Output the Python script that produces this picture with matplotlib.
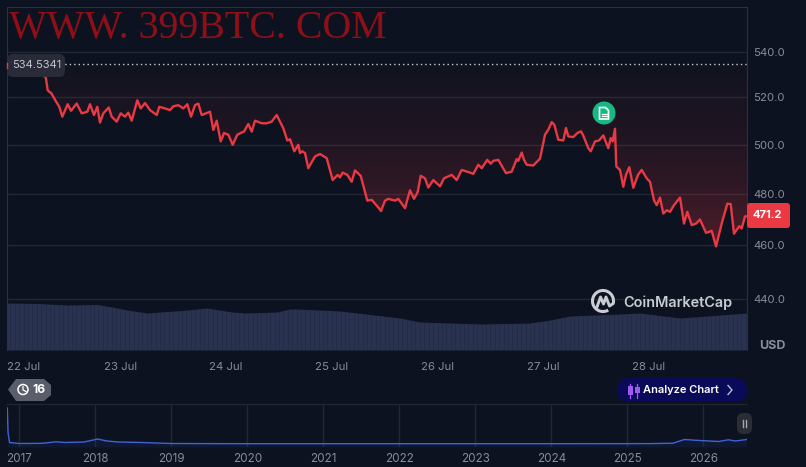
import numpy as np
import matplotlib
matplotlib.use("Agg")
import matplotlib.pyplot as plt
from matplotlib.patches import FancyBboxPatch, Circle, Arc, Polygon, Rectangle
from matplotlib.ticker import FixedLocator, NullLocator, FixedFormatter
from matplotlib.transforms import ScaledTranslation
from matplotlib.colors import LinearSegmentedColormap

plt.rcParams['font.family'] = ['Inter', 'DejaVu Sans']

# Sampling slots: one slot is about 13.6 minutes, slot 0 is the left edge of the chart
slots = [0, 38.7, 40.7, 44.7, 48, 52.3, 55.3, 60.7, 64, 69.7, 74.7, 80.3, 83, 87, 90.3, 93, 96.3, 101.7, 104.7, 109.7,
         113.7, 118, 121.3, 124.7, 130.3, 133.7, 138, 143, 149.7, 152.3, 158, 163, 166.3, 171.3, 176.3, 180.3, 184,
         188, 191.3, 194.7, 203, 206.3, 209.7, 213.7, 217, 221.3, 225.7, 230.3, 234.7, 237, 241.3, 244.7, 248, 254.7,
         259.7, 264.7, 269.7, 276.3, 280.3, 283, 287.3, 291.3, 293, 295.3, 298, 301.3, 308, 313, 319.7, 325.7, 330.7,
         333, 335.7, 340.3, 344.7, 348, 353.7, 360.3, 364.7, 371.3, 374, 378, 381.3, 388, 391.3, 398, 403, 407, 410.7,
         413.7, 418, 421.3, 426.3, 433, 437, 444.7, 449.7, 454.7, 463, 466.3, 471.3, 474.7, 480.3, 483.7, 486.3, 491.3,
         499, 504.7, 509.7, 511.3, 514.7, 517, 519.7, 526.3, 533, 538, 541.3, 544.7, 547.3, 551.3, 556.3, 559, 561.3,
         566.3, 570.3, 574, 576.3, 581.3, 583.7, 588, 592, 596.3, 601.3, 603.7, 605.7, 608, 609.3, 613, 616.3, 619,
         622.3, 626.3, 631, 634.7, 639.7, 643, 647, 649.7, 653, 656.3, 659.7, 663, 667, 673, 677, 680.3, 684.7, 689,
         693, 699, 704.7, 709, 714.7, 720.3, 723.7, 727, 732.3, 734.7, 738, 740]
prices = [534.5341, 529, 523.1, 521.6, 519, 516, 511.8, 517.1, 514.3, 517.4, 513.2, 513.9, 517.1, 512.5, 516, 509.3,
          513.2, 515.7, 511.8, 509.7, 513.2, 511.8, 513.5, 510.1, 518.8, 515.3, 517.6, 514.6, 512.5, 516, 515.3, 514.6,
          516.2, 516.7, 515.3, 517.1, 511.8, 516.7, 517.4, 512.5, 513.9, 506.2, 510.1, 501.4, 504.9, 504.2, 500, 504.2,
          505.1, 505.5, 508.7, 505.5, 510.1, 509, 509, 509.7, 512.5, 506.9, 501.8, 502.3, 497.3, 500, 496.6, 497.3,
          496.6, 490.4, 495.2, 496.2, 494.5, 485.6, 487.7, 486.7, 488.6, 487.7, 484.9, 489.5, 487.3, 477.4, 477.7,
          474.7, 473.3, 477.4, 478.1, 477.4, 478.1, 474.4, 481.5, 478.1, 480.8, 487.3, 486.3, 482.6, 485.6, 483.1,
          486.3, 487.7, 485.6, 489.7, 488.6, 488.1, 491.8, 490.4, 493.8, 492.2, 493.4, 493.8, 488.4, 489, 494.1, 493.4,
          496.8, 493.8, 491.8, 491.5, 494.3, 504.2, 506.3, 509.5, 508.4, 502.1, 501.8, 507, 503.5, 503.2, 504.9, 505.6,
          503.8, 498.6, 497.3, 501.4, 501.8, 503.9, 498.6, 502.8, 501.4, 506.7, 491.1, 489.7, 482.9, 487.7, 490.8,
          482.5, 487.7, 489.7, 486.3, 484.9, 477.5, 475.6, 478.6, 472.3, 473.6, 473, 475.6, 478.6, 468.4, 473, 467.8,
          468.4, 470, 464.8, 465.6, 459.6, 468.4, 476.2, 476, 464.5, 467.4, 466.5, 471.2, 471.2]
baseline = 534.5341

vol_slots = [0, 30, 60, 90, 105, 120, 140, 175, 200, 225, 240, 270, 283, 290, 333, 393, 413, 473, 523, 543, 563, 613,
             633, 673, 700, 740]
vol_values = [47, 46.5, 45, 45.5, 43, 40, 37, 39.5, 42, 38, 37, 38, 41, 41, 39, 32, 28, 26, 27, 30, 34, 36, 37, 32, 34,
              37]

date_hours = [0, 24, 48, 72, 96, 120, 144]
date_labels = ['22 Jul', '23 Jul', '24 Jul', '25 Jul', '26 Jul', '27 Jul', '28 Jul']
price_ticks = [440, 460, 480, 500, 520, 540]

nav_years = [2016.84, 2016.85, 2016.87, 2017.0, 2017.3, 2017.48, 2017.6, 2017.85, 2018.03, 2018.15, 2018.3, 2018.6,
             2019, 2020, 2022, 2024, 2025.3, 2025.6, 2025.75, 2025.95, 2026.2, 2026.33, 2026.42, 2026.57]
nav_values = [39, 14, 4.5, 3.5, 3.7, 5.2, 4.5, 5, 8, 6, 5, 4.5, 3.5, 3.3, 3.3, 3.3, 3.4, 3.8, 7.5, 6.5, 5.5, 7.2, 6,
              7.5]
nav_ticks = list(range(2017, 2027))

BG = '#0c121f'
GRID = '#232733'
AXIS = '#2c303c'
TXT = '#878c99'
RED = '#ea3943'

W, H = 806, 467
fig = plt.figure(figsize=(W / 100, H / 100), dpi=100, facecolor=BG)


def axes_px(x0, y0, x1, y1, **kw):
    return fig.add_axes([x0 / W, 1 - y1 / H, (x1 - x0) / W, (y1 - y0) / H], **kw)


hours = np.array(slots) * 24 / 105.7 - 1.75
xlim = (-1.75, 740 * 24 / 105.7 - 1.75)
prices_arr = np.array(prices)

ax = axes_px(7, 7, 747, 350, facecolor=BG)
ax.set_yscale('log')
ax.set_xlim(*xlim)
ax.set_ylim(421.8, 560.5)
ax.yaxis.tick_right()
ax.yaxis.set_major_locator(FixedLocator(price_ticks))
ax.yaxis.set_major_formatter(FixedFormatter([f'{v:.1f}' for v in price_ticks]))
ax.yaxis.set_minor_locator(NullLocator())
ax.set_xticks(date_hours)
ax.set_xticklabels(date_labels)
ax.tick_params(axis='both', length=0, colors=TXT, labelsize=8.2)
ax.tick_params(axis='y', pad=4.5)
ax.tick_params(axis='x', pad=8.5)
ax.grid(axis='y', color=GRID, lw=1)
ax.set_axisbelow(True)
for k in ('top', 'left', 'right'):
    ax.spines[k].set_color(AXIS)
ax.spines['bottom'].set_visible(False)
first = ax.get_xticklabels()[0]
first.set_transform(first.get_transform() + ScaledTranslation(8.5 / 100, 0, fig.dpi_scale_trans))

# Gradient area between the baseline and the price
poly = ax.fill_between(hours, prices_arr, baseline, color='none', lw=0)
cmap = LinearSegmentedColormap.from_list('g', [(0.0, (0.92, 0.22, 0.26, 0.30)),
                                               (0.3, (0.92, 0.22, 0.26, 0.17)),
                                               (0.6, (0.92, 0.22, 0.26, 0.09)),
                                               (1.0, (0.92, 0.22, 0.26, 0.03))])
grad = np.linspace(0, 1, 256).reshape(-1, 1)
y_frac_low, y_frac_high = (350 - 245) / 343, (350 - 65) / 343
im = ax.imshow(grad, cmap=cmap, origin='lower', aspect='auto', transform=ax.transAxes,
               extent=(0, 1, y_frac_low, y_frac_high), zorder=1.5)
im.set_clip_path(poly.get_paths()[0], transform=ax.transData)
ax.set_xlim(*xlim)
ax.set_ylim(421.8, 560.5)

ax.axhline(baseline, color='#c9ccd3', lw=1, ls=(0, (1, 2.2)), zorder=2)
ax.plot(hours, prices_arr, color=RED, lw=1.7, zorder=3, solid_joinstyle='round')

# Volume in the same frame
axv = axes_px(7, 7, 747, 350)
axv.patch.set_alpha(0)
axv.set_xlim(*xlim)
axv.set_ylim(0, 343)
axv.axis('off')
vol_h = np.array(vol_slots) * 24 / 105.7 - 1.75
axv.fill_between(vol_h, vol_values, 0, color='#29324f', lw=0)
axv.vlines(np.arange(-1, 168), 0, np.interp(np.arange(-1, 168), vol_h, vol_values), color=BG, alpha=0.22, lw=0.6)

# Navigator
axn = axes_px(7, 404, 747, 447, facecolor=BG)
axn.set_xlim(2016.836, 2026.574)
axn.set_ylim(0, 43)
axn.set_yticks([])
axn.set_xticks(nav_ticks)
axn.set_xticklabels([str(y) for y in nav_ticks])
axn.tick_params(axis='x', length=0, colors=TXT, labelsize=8.4, pad=4)
axn.grid(axis='x', color='#23272f', lw=1)
axn.set_axisbelow(True)
for k in ('left', 'right', 'bottom'):
    axn.spines[k].set_visible(False)
axn.spines['top'].set_color(GRID)
axn.fill_between(nav_years, nav_values, 0, color='#3861fb', alpha=0.08, lw=0)
axn.plot(nav_years, nav_values, color='#3f64d8', lw=1.0)

# Overlay in pixel coordinates for labels and badges
ov = fig.add_axes([0, 0, 1, 1])
ov.set_xlim(0, W)
ov.set_ylim(H, 0)
ov.axis('off')
ov.patch.set_alpha(0)


def rbox(x0, y0, x1, y1, r, fc, **kw):
    p = FancyBboxPatch((x0 + r, y0 + r), x1 - x0 - 2 * r, y1 - y0 - 2 * r,
                       boxstyle=f'round,pad={r},rounding_size={r}', fc=fc, ec='none', **kw)
    ov.add_patch(p)
    return p


ov.text(9, 28.5, 'WWW. 399BTC. COM', family='Liberation Serif', fontsize=28.7, color='#8f0f17', va='center', ha='left')

rbox(7, 54, 65, 77, 6, '#292c38')
ov.text(37, 65.5, f'{baseline:.4f}', color='#c3c6ce', fontsize=8, ha='center', va='center')
ov.plot([7.3, 7.3], [63, 68], color=RED, lw=1)

rbox(747, 203, 790, 228, 3, RED)
ov.text(767.5, 215.5, f'{prices[-1]:.1f}', color='white', fontsize=8.1, fontweight='bold', ha='center', va='center')
ov.text(772.5, 346, 'USD', color=TXT, fontsize=9, fontweight='bold', ha='center', va='center')

# Green news marker
ov.add_patch(Circle((604, 113), 11.5, fc='#16b982', ec='none'))
ov.add_patch(Polygon([(599.5, 107.5), (605.5, 107.5), (608.5, 110.5), (608.5, 119), (599.5, 119)], closed=True,
                     fc='none', ec='white', lw=1.2))
ov.plot([601.5, 606.5], [113.5, 113.5], color='white', lw=0.9)
ov.plot([601.5, 606.5], [116, 116], color='white', lw=0.9)

# Logo
LOGO = '#c9ccd2'
ov.add_patch(Arc((603, 301), 21, 21, theta1=60, theta2=15, ec=LOGO, lw=2.2))
ov.plot([597, 600.5, 603.5, 606, 609.5, 612.5], [307, 297, 304, 297, 306, 304], color=LOGO, lw=2.1,
        solid_joinstyle='round')
ov.text(623, 302.5, 'CoinMarketCap', color=LOGO, fontsize=10.4, fontweight='semibold', ha='left', va='center')

# History badge
ov.add_patch(Polygon([(8, 389.5), (16, 379), (44, 379), (51, 385), (51, 395), (44, 401), (16, 401)], closed=True,
                     fc='#5a5e6b', ec='none'))
ov.add_patch(Circle((23, 389.5), 5, fc='none', ec='white', lw=1.1))
ov.plot([23, 23, 26], [386.5, 390, 391.5], color='white', lw=0.9)
ov.text(39, 390, '16', color='white', fontsize=8.8, fontweight='bold', ha='center', va='center')

# Analyze pill
rbox(617, 378, 747, 402, 12, '#0a0b58')
for cx, top, bot in [(630, 386, 395), (637, 387, 393)]:
    ov.plot([cx, cx], [384, 398], color='#9d5cf0', lw=0.9)
    ov.add_patch(Rectangle((cx - 2.5, top), 5, bot - top, fc='#9d5cf0', ec='none', zorder=3))
ov.text(681, 390, 'Analyze Chart', color='white', fontsize=8, fontweight='semibold', ha='center', va='center')
ov.plot([728, 732, 728], [385.5, 390, 394.5], color='#b9bdc8', lw=1)

# Navigator handle
rbox(737, 413, 752, 434, 6, '#2b2d36')
ov.plot([743, 743], [420, 427], color='#a2a6b0', lw=1)
ov.plot([746, 746], [420, 427], color='#a2a6b0', lw=1)

fig.savefig('out.png', dpi=100, facecolor=BG)
